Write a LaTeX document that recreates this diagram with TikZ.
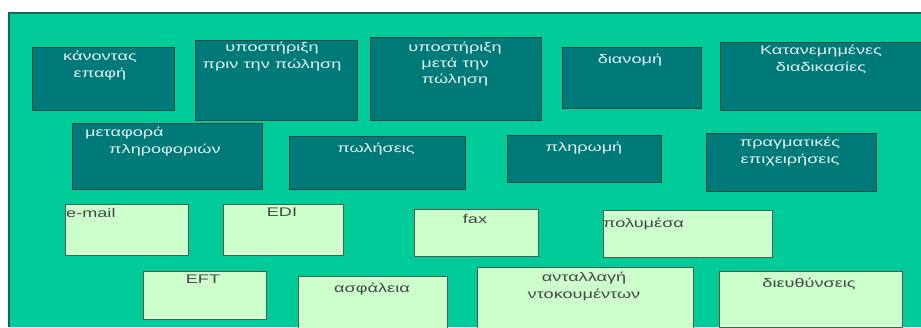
\documentclass[tikz,border=0pt]{standalone}
\usepackage{fontspec}
\newfontfamily\gr[FakeStretch=1.45]{Liberation Sans}
\definecolor{panel}{RGB}{0,204,153}
\definecolor{paneledge}{RGB}{0,110,85}
\definecolor{dk}{RGB}{0,122,120}
\definecolor{dkedge}{RGB}{0,72,70}
\definecolor{lt}{RGB}{204,255,204}
\definecolor{ltedge}{RGB}{80,90,80}
\definecolor{dktext}{RGB}{225,240,238}
\definecolor{lttext}{RGB}{70,70,70}
\tikzset{
  darkbox/.style={draw=dkedge, line width=1.2pt, fill=dk, inner sep=0pt, anchor=north west},
  lightbox/.style={draw=ltedge, line width=1.2pt, fill=lt, inner sep=0pt, anchor=north west},
  dtxt/.style={text=dktext, font=\gr\fontsize{12.5}{17}\selectfont, align=center, inner sep=0pt, anchor=north},
  ltxt/.style={text=lttext, font=\gr\fontsize{12.5}{17}\selectfont, align=center, inner sep=0pt, anchor=north},
}
\begin{document}
\begin{tikzpicture}[x=1pt,y=-1pt]
\useasboundingbox (0,0) rectangle (921,327);
\fill[white] (0,0) rectangle (921,327);
\fill[panel] (8,12) rectangle (921,327);
\draw[paneledge, line width=2.5pt] (9.2,327) -- (9.2,13.2) -- (921,13.2);
% row 1
\node[darkbox, minimum width=142pt, minimum height=63pt] (b1) at (32,47) {};
\node[dtxt] (t1) at (100,51) {κάνοντας\\επαφή};
\node[darkbox, minimum width=162pt, minimum height=80pt] (b2) at (195,40) {};
\node[dtxt] (t2) at (272,42) {υποστήριξη\\πριν την πώληση};
\node[darkbox, minimum width=171pt, minimum height=83pt] (b3) at (370,37) {};
\node[dtxt, font=\gr\fontsize{12.5}{16}\selectfont] (t3) at (455,42) {υποστήριξη\\μετά την\\πώληση};
\node[darkbox, minimum width=139pt, minimum height=61pt] (b4) at (562,47) {};
\node[dtxt] (t4) at (630,54) {διανομή};
\node[darkbox, minimum width=205pt, minimum height=68pt] (b5) at (720,42) {};
\node[dtxt] (t5) at (821,45) {Κατανεμημένες\\διαδικασίες};
% row 2
\node[darkbox, minimum width=190pt, minimum height=66pt] (b6) at (72,123) {};
\node[dtxt, align=left, anchor=north west] (t6) at (85,127) {μεταφορά\\\hspace*{24pt}πληροφοριών};
\node[darkbox, minimum width=176pt, minimum height=53pt] (b7) at (289,136) {};
\node[dtxt] (t7) at (376,143) {πωλήσεις};
\node[darkbox, minimum width=154pt, minimum height=47pt] (b8) at (507,135) {};
\node[dtxt] (t8) at (584,142) {πληρωμή};
\node[darkbox, minimum width=170pt, minimum height=58pt] (b9) at (706,133) {};
\node[dtxt] (t9) at (790,137) {πραγματικές\\επιχειρήσεις};
% row 3
\node[lightbox, minimum width=123pt, minimum height=51pt] (c1) at (65,204) {};
\node[ltxt, anchor=north west] (u1) at (66,208) {e-mail};
\node[lightbox, minimum width=120pt, minimum height=51pt] (c2) at (223,204) {};
\node[ltxt] (u2) at (282,208) {EDI};
\node[lightbox, minimum width=124pt, minimum height=47pt] (c3) at (414,209) {};
\node[ltxt] (u3) at (475,214) {fax};
\node[lightbox, minimum width=169pt, minimum height=47pt] (c4) at (603,210) {};
\node[ltxt, anchor=north west] (u4) at (603,218) {πολυμέσα};
% row 4
\node[lightbox, minimum width=123pt, minimum height=48pt] (c5) at (143,271) {};
\node[ltxt] (u5) at (203,275) {EFT};
\node[lightbox, minimum width=149pt, minimum height=52pt] (c6) at (298,276) {};
\node[ltxt] (u6) at (372,283) {ασφάλεια};
\node[lightbox, minimum width=216pt, minimum height=62pt] (c7) at (477,267) {};
\node[ltxt] (u7) at (584,272) {ανταλλαγή\\ντοκουμέντων};
\node[lightbox, minimum width=183pt, minimum height=56pt] (c8) at (719,271) {};
\node[ltxt] (u8) at (809,278) {διευθύνσεις};
\end{tikzpicture}
\end{document}
